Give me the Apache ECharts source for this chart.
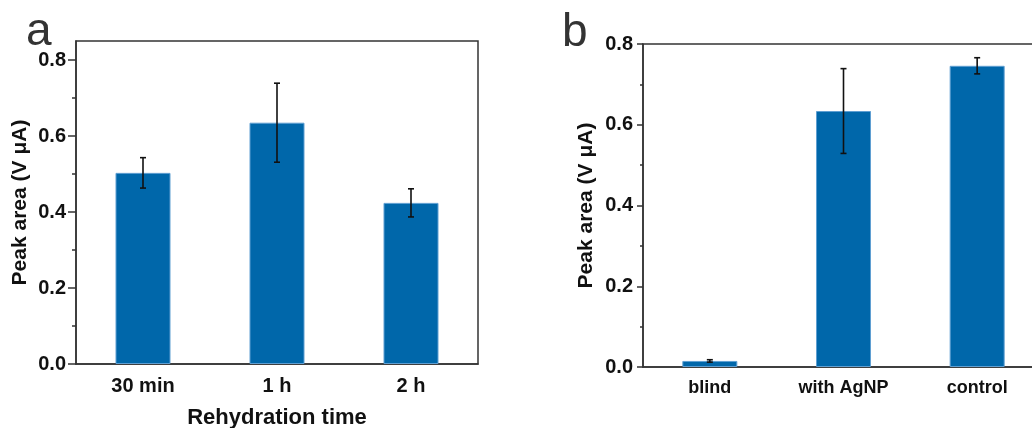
<!DOCTYPE html>
<html>
<head>
<meta charset="utf-8">
<style>
  html, body { margin: 0; padding: 0; background: #fff; }
  #chart { width: 1032px; height: 428px; }
</style>
<script src="https://cdn.jsdelivr.net/npm/echarts@6/dist/echarts.min.js"></script>
</head>
<body>
<div id="chart"></div>
<script>
// Panel a: peak area versus rehydration time
const timeCats = ['30 min', '1 h', '2 h'];
const timeMeans = [0.503, 0.635, 0.424];
const timeErrs = [0.040, 0.104, 0.037];

// Panel b: peak area per sample type
const sampleCats = ['blind', 'with AgNP', 'control'];
const sampleMeans = [0.015, 0.634, 0.746];
const sampleErrs = [0.003, 0.105, 0.020];

// Y axis ticks (both panels)
const yMajorTicks = [0, 0.2, 0.4, 0.6, 0.8];
const yMinorTicks = [0.1, 0.3, 0.5, 0.7];

const FONT = "'Liberation Sans', Arial, sans-serif";
const AXIS = '#333';
const BAR = '#0067aa';

function errorData(means, errs) {
  return means.map((m, i) => [i, m - errs[i], m + errs[i]]);
}

function errorRender(params, api) {
  const x = api.value(0);
  const lo = api.coord([x, api.value(1)]);
  const hi = api.coord([x, api.value(2)]);
  const cap = 3;
  const style = { stroke: '#111', lineWidth: 1.6 };
  return {
    type: 'group',
    children: [
      { type: 'line', shape: { x1: hi[0], y1: hi[1], x2: lo[0], y2: lo[1] }, style },
      { type: 'line', shape: { x1: hi[0] - cap, y1: hi[1], x2: hi[0] + cap, y2: hi[1] }, style },
      { type: 'line', shape: { x1: lo[0] - cap, y1: lo[1], x2: lo[0] + cap, y2: lo[1] }, style }
    ]
  };
}

function xAxes(gridIndex, cats, name, labelSize) {
  return [
    {
      type: 'category', gridIndex, data: cats, position: 'bottom',
      name, nameLocation: 'middle', nameGap: 43,
      nameTextStyle: { fontFamily: FONT, fontWeight: 'bold', fontSize: 22, color: '#111' },
      axisLine: { lineStyle: { color: AXIS, width: 1.5 } },
      axisTick: { alignWithLabel: true, length: 5, lineStyle: { color: AXIS, width: 1.5 } },
      axisLabel: { fontFamily: FONT, fontWeight: 'bold', fontSize: labelSize, color: '#111', margin: 12 },
      splitLine: { show: false }
    },
    {
      type: 'category', gridIndex, data: cats, position: 'bottom',
      axisLine: { show: false },
      axisTick: { alignWithLabel: false, length: 3, lineStyle: { color: AXIS, width: 1.5 } },
      axisLabel: { show: false },
      splitLine: { show: false }
    }
  ];
}

function yAxes(gridIndex, max, majorLen, minorLen, nameGap) {
  return [
    {
      type: 'value', gridIndex, min: 0, max, position: 'left',
      name: 'Peak area (V μA)', nameLocation: 'middle', nameGap,
      nameTextStyle: { fontFamily: FONT, fontWeight: 'bold', fontSize: 21, color: '#111' },
      axisLine: { show: true, lineStyle: { color: AXIS, width: 1.5 } },
      axisTick: { show: true, length: majorLen, customValues: yMajorTicks, lineStyle: { color: AXIS, width: 1.5 } },
      axisLabel: { customValues: yMajorTicks, formatter: v => v.toFixed(1),
        fontFamily: FONT, fontWeight: 'bold', fontSize: 20, color: '#111', margin: 10 },
      splitLine: { show: false }
    },
    {
      type: 'value', gridIndex, min: 0, max, position: 'left',
      axisLine: { show: false },
      axisTick: { show: true, length: minorLen, customValues: yMinorTicks, lineStyle: { color: AXIS, width: 1.5 } },
      axisLabel: { show: false },
      splitLine: { show: false }
    }
  ];
}

const chart = echarts.init(document.getElementById('chart'), null, { renderer: 'canvas' });

chart.setOption({
  animation: false,
  backgroundColor: '#fff',
  title: [
    { text: 'a', left: 21, top: 4, textStyle: { fontFamily: FONT, fontWeight: 'normal', fontSize: 46, color: '#333' } },
    { text: 'b', left: 557, top: 5, textStyle: { fontFamily: FONT, fontWeight: 'normal', fontSize: 46, color: '#333' } }
  ],
  grid: [
    { left: 76, top: 41, width: 402, height: 323, outerBoundsMode: 'none', containLabel: false,
      show: true, borderColor: AXIS, borderWidth: 1.5, backgroundColor: 'transparent' },
    { left: 643, top: 44, width: 401, height: 323, outerBoundsMode: 'none', containLabel: false,
      show: true, borderColor: AXIS, borderWidth: 1.5, backgroundColor: 'transparent' }
  ],
  xAxis: [...xAxes(0, timeCats, 'Rehydration time', 20), ...xAxes(1, sampleCats, '', 18)],
  yAxis: [...yAxes(0, 0.85, 8, 4, 45), ...yAxes(1, 0.8, 6, 3, 46)],
  series: [
    {
      type: 'bar', xAxisIndex: 0, yAxisIndex: 0, data: timeMeans, barWidth: 55,
      itemStyle: { color: BAR, borderColor: '#5f9fd2', borderWidth: 1 }
    },
    {
      type: 'custom', xAxisIndex: 0, yAxisIndex: 0, data: errorData(timeMeans, timeErrs),
      renderItem: errorRender, z: 5
    },
    {
      type: 'bar', xAxisIndex: 2, yAxisIndex: 2, data: sampleMeans, barWidth: 55,
      itemStyle: { color: BAR, borderColor: '#5f9fd2', borderWidth: 1 }
    },
    {
      type: 'custom', xAxisIndex: 2, yAxisIndex: 2, data: errorData(sampleMeans, sampleErrs),
      renderItem: errorRender, z: 5
    }
  ]
});
</script>
</body>
</html>
